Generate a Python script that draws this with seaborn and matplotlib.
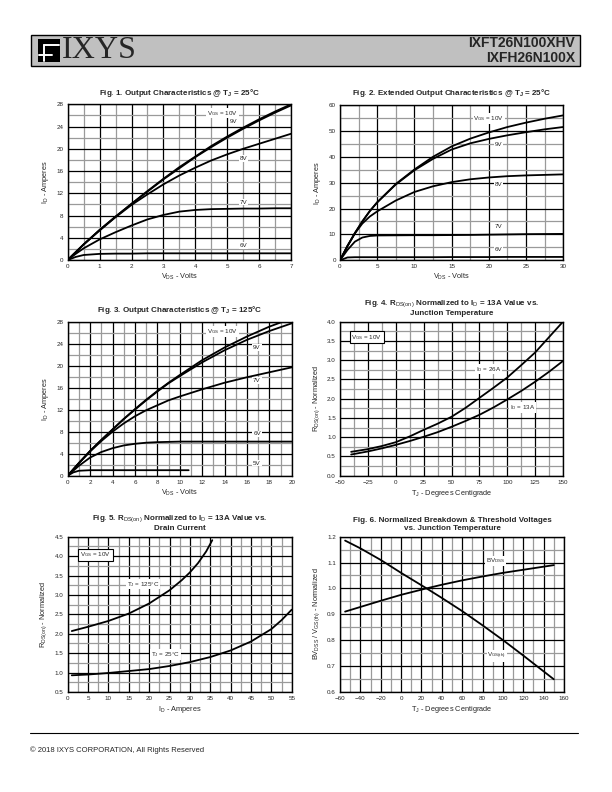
import numpy as np
import pandas as pd
import seaborn as sns
import matplotlib.pyplot as plt
from matplotlib.patches import Rectangle
from matplotlib.lines import Line2D
from matplotlib.ticker import FormatStrFormatter

# ---- data ----
# Fig. 1  output characteristics @ 25C
f1_vds = [0, 0.25, 0.5, 1, 1.5, 2, 2.5, 3, 3.5, 4, 4.5, 5, 5.5, 6, 6.5, 7]
f1_10v = [0, 1.4, 2.8, 5.4, 7.8, 10.1, 12.4, 14.6, 16.7, 18.6, 20.5, 22.2, 23.8, 25.3, 26.7, 28.0]
f1_9v = [0, 1.4, 2.8, 5.4, 7.8, 10.1, 12.3, 14.5, 16.5, 18.5, 20.3, 22.0, 23.6, 25.1, 26.5, 27.8]
f1_8v = [0, 1.4, 2.8, 5.3, 7.7, 9.9, 11.8, 13.6, 15.2, 16.6, 17.9, 19.0, 20.0, 20.9, 21.8, 22.7]
f1_7v = [0, 1.1, 2.1, 3.7, 5.0, 6.2, 7.3, 8.1, 8.7, 9.0, 9.15, 9.2, 9.25, 9.25, 9.3, 9.3]
f1_6v = [0, 0.55, 0.9, 1.1, 1.15, 1.15, 1.2, 1.2, 1.2, 1.2, 1.2, 1.2, 1.2, 1.2, 1.2, 1.2]

# Fig. 2  extended output characteristics @ 25C
f2_vds = [0, 1, 2, 3, 4, 5, 7.5, 10, 12.5, 15, 17.5, 20, 22.5, 25, 27.5, 30]
f2_10v = [0, 5.5, 10.5, 15, 19, 22.4, 29.5, 35.1, 40, 44, 47, 49.4, 51.5, 53.2, 54.7, 56]
f2_9v = [0, 5.5, 10.5, 15, 19, 22.4, 29.3, 34.8, 39.2, 42.8, 45.2, 46.9, 48.3, 49.5, 50.6, 51.5]
f2_8v = [0, 5.5, 10.4, 14.2, 16.9, 18.9, 23.1, 26.4, 28.6, 30.2, 31.3, 32.0, 32.5, 32.8, 33.0, 33.2]
f2_7v = [0, 4.0, 7.2, 8.8, 9.4, 9.6, 9.65, 9.7, 9.7, 9.75, 9.8, 9.9, 10.0, 10.1, 10.15, 10.2]
f2_6v = [0, 1.1, 1.2, 1.2, 1.2, 1.2, 1.2, 1.2, 1.2, 1.25, 1.25, 1.25, 1.3, 1.3, 1.3, 1.3]

# Fig. 3  output characteristics @ 125C
f3_vds = [0, 1, 2, 3, 4, 5, 6, 7, 8, 9, 10, 12, 14, 16, 18, 20]
f3_10v = [0, 2.3, 4.5, 6.5, 8.4, 10.3, 12.1, 13.8, 15.4, 16.9, 18.3, 21.0, 23.3, 25.3, 27.1, 28.6]
f3_9v = [0, 2.3, 4.5, 6.5, 8.4, 10.3, 12.0, 13.7, 15.3, 16.8, 18.1, 20.6, 22.8, 24.7, 26.3, 27.7]
f3_7v = [0, 2.3, 4.4, 6.3, 8.0, 9.5, 10.8, 11.9, 12.8, 13.7, 14.4, 15.7, 16.9, 17.9, 18.8, 19.7]
f3_6v = [0, 1.8, 3.3, 4.3, 5.0, 5.5, 5.8, 6.0, 6.1, 6.15, 6.2, 6.2, 6.2, 6.2, 6.2, 6.2]
f3_5v_vds = [0, 0.5, 1, 1.5, 2, 4, 6, 8, 10, 10.8]
f3_5v = [0, 0.6, 0.9, 0.95, 1.0, 1.0, 1.0, 1.0, 1.0, 1.0]

# Fig. 4  Rds(on) vs junction temperature
f4_tj = [-40, -25, -12.5, 0, 12.5, 25, 37.5, 50, 62.5, 75, 87.5, 100, 112.5, 125, 137.5, 150]
f4_26a = [0.62, 0.69, 0.77, 0.87, 1.02, 1.19, 1.35, 1.53, 1.76, 2.02, 2.28, 2.55, 2.87, 3.2, 3.6, 4.0]
f4_13a = [0.55, 0.63, 0.71, 0.80, 0.90, 1.01, 1.13, 1.27, 1.42, 1.58, 1.77, 1.98, 2.2, 2.44, 2.7, 2.98]

# Fig. 5  Rds(on) vs drain current
f5_id_hot = [1, 5, 10, 15, 20, 25, 28, 30, 32, 34, 35.5]
f5_hot = [2.07, 2.18, 2.33, 2.52, 2.78, 3.12, 3.38, 3.58, 3.82, 4.12, 4.41]
f5_id_cold = [1, 5, 10, 15, 20, 25, 30, 35, 40, 45, 50, 52.5, 55]
f5_cold = [0.93, 0.95, 0.99, 1.04, 1.09, 1.17, 1.27, 1.4, 1.57, 1.8, 2.12, 2.35, 2.62]

# Fig. 6  breakdown & threshold vs temperature
f6_tj = [-55, -40, -20, 0, 20, 25, 40, 60, 80, 100, 120, 150]
f6_vth = [1.185, 1.155, 1.11, 1.06, 1.012, 1.0, 0.963, 0.912, 0.857, 0.80, 0.74, 0.648]
f6_bv = [0.91, 0.928, 0.952, 0.975, 0.995, 1.0, 1.014, 1.031, 1.046, 1.06, 1.072, 1.09]

sns.set_theme(style="white")
plt.rcParams["font.family"] = ["Liberation Sans", "DejaVu Sans"]
plt.rcParams["mathtext.fontset"] = "custom"
plt.rcParams["mathtext.rm"] = "Liberation Sans"
plt.rcParams["mathtext.it"] = "Liberation Sans"
plt.rcParams["mathtext.bf"] = "Liberation Sans:bold"
plt.rcParams["mathtext.default"] = "rm"

fig = plt.figure(figsize=(6.12, 7.92), dpi=100)
W, H = 612.0, 792.0


def add_ax(left, top, right, bottom):
    return fig.add_axes([left / W, 1 - bottom / H, (right - left) / W, (bottom - top) / H])


def panel(ax, curves, xlim, ylim, xmaj, xmin, ymaj, ymin, yfmt=None):
    rows = []
    for name, (xs, ys) in curves.items():
        for x, y in zip(xs, ys):
            rows.append({"x": x, "y": y, "curve": name})
    df = pd.DataFrame(rows)
    sns.lineplot(data=df, x="x", y="y", hue="curve", palette=["black"] * len(curves),
                 legend=False, estimator=None, sort=False, lw=1.3, ax=ax, zorder=3)
    ax.set_xlim(*xlim)
    ax.set_ylim(*ylim)
    ax.set_xticks(xmaj)
    ax.set_xticks(xmin, minor=True)
    ax.set_yticks(ymaj)
    ax.set_yticks(ymin, minor=True)
    ax.grid(which="minor", color="#9a9a9a", lw=0.9)
    ax.grid(which="major", color="black", lw=0.9)
    ax.set_axisbelow(True)
    ax.tick_params(which="both", length=0, labelsize=4.5, pad=3)
    if yfmt:
        ax.yaxis.set_major_formatter(FormatStrFormatter(yfmt))
    for s in ax.spines.values():
        s.set_color("black")
        s.set_linewidth(1.0)


def tag(ax, x, y, s, box=False):
    bb = dict(fc="white", ec="black" if box else "none", lw=0.8, pad=1.2 if box else 0.6)
    ax.text(x, y, s, fontsize=4.5, ha="center", va="center", bbox=bb, zorder=4)


TITLE = dict(fontsize=5.8, fontweight="bold")
LAB = 5.3

# Fig 1
ax1 = add_ax(67.7, 104.3, 291, 260)
panel(ax1, {"10": (f1_vds, f1_10v), "9": (f1_vds, f1_9v), "8": (f1_vds, f1_8v),
            "7": (f1_vds, f1_7v), "6": (f1_vds, f1_6v)},
      (0, 7), (0, 28), np.arange(0, 8, 1), np.arange(0.5, 7, 1), np.arange(0, 29, 4), np.arange(2, 28, 4))
ax1.set_title("Fig. 1. Output Characteristics @ T$_\\mathbf{J}$ = 25°C", pad=7, **TITLE)
ax1.set_xlabel("V$_{DS}$ - Volts", fontsize=LAB, labelpad=2)
ax1.set_ylabel("I$_D$ - Amperes", fontsize=LAB, labelpad=4)
tag(ax1, 4.85, 26.4, "V$_{GS}$ = 10V")
tag(ax1, 5.2, 24.9, "9V")
tag(ax1, 5.5, 18.2, "8V")
tag(ax1, 5.5, 10.4, "7V")
tag(ax1, 5.5, 2.6, "6V")

# Fig 2
ax2 = add_ax(340, 105, 563.3, 260.3)
panel(ax2, {"10": (f2_vds, f2_10v), "9": (f2_vds, f2_9v), "8": (f2_vds, f2_8v),
            "7": (f2_vds, f2_7v), "6": (f2_vds, f2_6v)},
      (0, 30), (0, 60), np.arange(0, 31, 5), np.arange(2.5, 30, 5), np.arange(0, 61, 10), np.arange(5, 60, 10))
ax2.set_title("Fig. 2. Extended Output Characteristics @ T$_\\mathbf{J}$ = 25°C", pad=7, **TITLE)
ax2.set_xlabel("V$_{DS}$ - Volts", fontsize=LAB, labelpad=2)
ax2.set_ylabel("I$_D$ - Amperes", fontsize=LAB, labelpad=4)
tag(ax2, 20.0, 54.8, "V$_{GS}$ = 10V")
tag(ax2, 21.3, 44.8, "9V")
tag(ax2, 21.3, 29.3, "8V")
tag(ax2, 21.3, 13.0, "7V")
tag(ax2, 21.3, 4.2, "6V")

# Fig 3
ax3 = add_ax(67.7, 321.7, 291.7, 475.7)
panel(ax3, {"10": (f3_vds, f3_10v), "9": (f3_vds, f3_9v), "7": (f3_vds, f3_7v),
            "6": (f3_vds, f3_6v), "5": (f3_5v_vds, f3_5v)},
      (0, 20), (0, 28), np.arange(0, 21, 2), np.arange(1, 20, 2), np.arange(0, 29, 4), np.arange(2, 28, 4))
ax3.set_title("Fig. 3. Output Characteristics @ T$_\\mathbf{J}$ = 125°C", pad=7, **TITLE)
ax3.set_xlabel("V$_{DS}$ - Volts", fontsize=LAB, labelpad=2)
ax3.set_ylabel("I$_D$ - Amperes", fontsize=LAB, labelpad=4)
tag(ax3, 13.8, 26.2, "V$_{GS}$ = 10V")
tag(ax3, 16.9, 23.3, "9V")
tag(ax3, 16.9, 17.3, "7V")
tag(ax3, 16.9, 7.6, "6V")
tag(ax3, 16.9, 2.3, "5V")

# Fig 4
ax4 = add_ax(340, 321.7, 563, 475.7)
panel(ax4, {"26": (f4_tj, f4_26a), "13": (f4_tj, f4_13a)},
      (-50, 150), (0, 4), np.arange(-50, 151, 25), np.arange(-37.5, 150, 25),
      np.arange(0, 4.01, 0.5), np.arange(0.25, 4, 0.5), yfmt="%.1f")
ax4.set_title("Fig. 4. R$_{DS(on)}$ Normalized to I$_D$ = 13A Value vs.\nJunction Temperature",
              pad=5, linespacing=1.1, **TITLE)
ax4.set_xlabel("T$_J$ - Degrees Centigrade", fontsize=LAB, labelpad=2)
ax4.set_ylabel("R$_{DS(on)}$ - Normalized", fontsize=LAB, labelpad=4)
tag(ax4, -26, 3.6, "V$_{GS}$ = 10V", box=True)
tag(ax4, 83, 2.77, "I$_D$ = 26A")
tag(ax4, 114, 1.77, "I$_D$ = 13A")

# Fig 5
ax5 = add_ax(67.7, 536.7, 291.7, 692)
panel(ax5, {"125": (f5_id_hot, f5_hot), "25": (f5_id_cold, f5_cold)},
      (0, 55), (0.5, 4.5), np.arange(0, 56, 5), np.arange(2.5, 55, 5),
      np.arange(0.5, 4.51, 0.5), np.arange(0.75, 4.5, 0.5), yfmt="%.1f")
ax5.set_title("Fig. 5. R$_{DS(on)}$ Normalized to I$_D$ = 13A Value vs.\nDrain Current",
              pad=5, linespacing=1.1, **TITLE)
ax5.set_xlabel("I$_D$ - Amperes", fontsize=LAB, labelpad=2)
ax5.set_ylabel("R$_{DS(on)}$ - Normalized", fontsize=LAB, labelpad=4)
tag(ax5, 6.8, 4.03, "V$_{GS}$ = 10V", box=True)
tag(ax5, 18.5, 3.28, "T$_J$ = 125°C")
tag(ax5, 24.0, 1.47, "T$_J$ = 25°C")

# Fig 6
ax6 = add_ax(340, 536.7, 564, 691.7)
panel(ax6, {"vth": (f6_tj, f6_vth), "bv": (f6_tj, f6_bv)},
      (-60, 160), (0.6, 1.2), np.arange(-60, 161, 20), np.arange(-50, 160, 20),
      np.arange(0.6, 1.21, 0.1), np.arange(0.65, 1.2, 0.1), yfmt="%.1f")
ax6.set_title("Fig. 6. Normalized Breakdown & Threshold Voltages\nvs. Junction Temperature",
              pad=5, linespacing=1.1, **TITLE)
ax6.set_xlabel("T$_J$ - Degrees Centigrade", fontsize=LAB, labelpad=2)
ax6.set_ylabel("BV$_{DSS}$ / V$_{GS(th)}$ - Normalized", fontsize=LAB, labelpad=4)
tag(ax6, 93, 1.106, "BV$_{DSS}$")
tag(ax6, 94, 0.739, "V$_{GS(th)}$")

# ---- header band ----
fig.patches.append(Rectangle((31 / W, 1 - 66 / H), 549 / W, 31 / H, transform=fig.transFigure,
                             fc="#c0c0c0", ec="black", lw=1.0))
# logo mark
fig.patches.append(Rectangle((38 / W, 1 - 62 / H), 22 / W, 23 / H, transform=fig.transFigure,
                             fc="black", ec="none"))
fig.lines.append(Line2D([44 / W, 44 / W], [1 - 61 / H, 1 - 45 / H], transform=fig.transFigure,
                        color="white", lw=1.4))
fig.lines.append(Line2D([44 / W, 59 / W], [1 - 45 / H, 1 - 45 / H], transform=fig.transFigure,
                        color="white", lw=1.4))
fig.lines.append(Line2D([39 / W, 52 / W], [1 - 55 / H, 1 - 55 / H], transform=fig.transFigure,
                        color="white", lw=1.4))
fig.text(62 / W, 1 - 51 / H, "IXYS", fontsize=23, family="Liberation Serif", va="center", ha="left")
fig.text(575 / W, 1 - 43 / H, "IXFT26N100XHV", fontsize=10, fontweight="bold", ha="right", va="center")
fig.text(575 / W, 1 - 58 / H, "IXFH26N100X", fontsize=10, fontweight="bold", ha="right", va="center")

# ---- footer ----
fig.lines.append(Line2D([30 / W, 578 / W], [1 - 733 / H, 1 - 733 / H], transform=fig.transFigure,
                        color="black", lw=0.8))
fig.text(30 / W, 1 - 750 / H, "© 2018 IXYS CORPORATION, All Rights Reserved", fontsize=5.5,
         ha="left", va="center")

fig.savefig("out.png", dpi=100)
